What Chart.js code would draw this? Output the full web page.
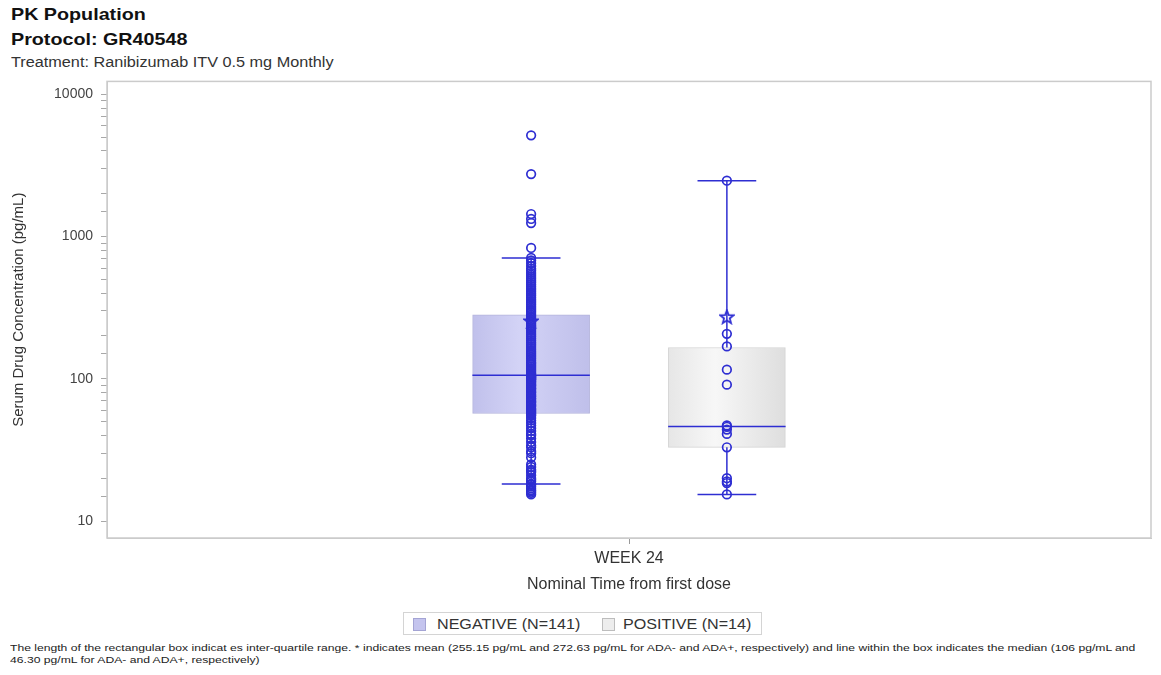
<!DOCTYPE html>
<html>
<head>
<meta charset="utf-8">
<script src="https://cdn.jsdelivr.net/npm/chart.js@4.4.1/dist/chart.umd.min.js"></script>
<style>
  body { margin:0; background:#fff; font-family: Arial, "Liberation Sans", sans-serif; }
  #page { position:relative; width:1161px; height:675px; overflow:hidden; }
  .t { position:absolute; white-space:nowrap; line-height:1; transform-origin:0 0; }
  .title { left:11px; font-size:17px; font-weight:bold; color:#111; transform:scaleX(1.16); }
  .sub { left:11px; top:55px; font-size:14px; color:#333; transform:scaleX(1.16); }
  #chartBox { position:absolute; left:0; top:65px; width:1161px; height:535px; }
  #legend { position:absolute; left:403px; top:612px; width:357px; height:21px; border:1px solid #d4d4d4; }
  .sw { position:absolute; top:5px; width:11px; height:11px; }
  .lt { font-size:14px; color:#333; top:4px; transform:scaleX(1.15); }
  .foot { left:10px; font-size:9px; color:#222; }
</style>
</head>
<body>
<div id="page">
  <div class="t title" style="top:6px">PK Population</div>
  <div class="t title" style="top:31px">Protocol: GR40548</div>
  <div class="t sub">Treatment: Ranibizumab ITV 0.5 mg Monthly</div>

  <div id="chartBox"><canvas id="boxChart" width="1161" height="535"></canvas></div>

  <div id="legend">
    <div class="sw" style="left:9px;background:#c4c4ee;border:1px solid #a4a4d4"></div>
    <div class="t lt" style="left:33px">NEGATIVE (N=141)</div>
    <div class="sw" style="left:198px;background:#ededed;border:1px solid #bdbdbd"></div>
    <div class="t lt" style="left:219px">POSITIVE (N=14)</div>
  </div>

  <div class="t foot" id="foot1" style="top:644px">The length of the rectangular box indicat es inter-quartile range. * indicates mean (255.15 pg/mL and 272.63 pg/mL for ADA- and ADA+, respectively) and line within the box indicates the median (106 pg/mL and</div>
  <div class="t foot" id="foot2" style="top:656px">46.30 pg/mL for ADA- and ADA+, respectively)</div>
</div>

<script>
// ── Data ──────────────────────────────────────────────────────────────────────

const categories  = ['WEEK 24'];
const groupLabels = ['NEGATIVE (N=141)', 'POSITIVE (N=14)'];

// individual concentrations (pg/mL)
const negValues = [
  5150, 2750, 1440, 1330, 1245, 832,
  708, 680, 650, 620, 595, 575, 555, 537, 520, 505, 490, 475, 461, 447, 434, 421, 409, 397, 385,
  374, 363, 353, 343, 333, 324, 315, 306, 298, 290,
  282, 275, 268, 260, 252, 245, 238, 231, 224, 217, 210, 204, 198, 192, 186, 180, 175, 170, 165,
  160, 155, 151, 147, 143, 139, 135, 131, 128, 125, 122, 119, 116, 113, 110, 108,
  106,
  105, 104, 103, 102, 101, 100, 99, 98, 96, 95, 93, 91, 90, 88, 86, 85, 83, 81, 80, 78, 76, 75,
  73, 72, 70, 69, 68, 66, 65, 64, 62, 61, 60, 59, 58,
  57, 56, 55, 53, 51, 49, 47, 45, 43, 41, 40, 38, 36, 34, 33, 31, 30, 28,
  25, 24, 23, 22.5, 22, 21, 20, 19.5, 19, 18.2, 18, 17.5, 17, 16.5, 16.2, 15.8, 15.4
];
const posValues = [2470, 207, 169, 116, 91, 47, 46, 44, 41, 33, 20, 19, 18.5, 15.4];

// box statistics per group [NEGATIVE, POSITIVE]
const q1          = [57, 33];
const medians     = [106, 46.3];
const q3          = [282, 166];
const whiskerLow  = [18.2, 15.4];
const whiskerHigh = [708, 2470];
const means       = [255.15, 272.63];

const yTickLabels = [10, 100, 1000, 10000];

// ── Layout helpers ────────────────────────────────────────────────────────────

const GROUP_GAP = 0.1875;                                 // spacing of the two groups on the 0..1 axis
const center  = i => 0.5 + (i - 0.5) * GROUP_GAP;
const halfBox = 0.05625;
const halfCap = halfBox * 0.5;
const BOX_PX  = 117;
const BLUE    = 'rgb(46,46,210)';

const gradStops = [
  ['#c0c0eb', '#d3d3f6', '#bfbfea'],
  ['#e6e6e6', '#f7f7f7', '#dedede']
];

function boxFill(c) {
  const chart = c.chart, xp = chart.scales.xp;
  const stops = gradStops[c.datasetIndex];
  if (!xp || !chart.chartArea) return stops[1];
  const l = xp.getPixelForValue(center(c.datasetIndex) - halfBox);
  const r = xp.getPixelForValue(center(c.datasetIndex) + halfBox);
  const g = chart.ctx.createLinearGradient(l, 0, r, 0);
  g.addColorStop(0, stops[0]); g.addColorStop(0.4, stops[1]); g.addColorStop(1, stops[2]);
  return g;
}

function whiskerData(i) {
  const c = center(i), gap = {x: c, y: null};
  return [
    {x: c - halfCap, y: whiskerLow[i]},  {x: c + halfCap, y: whiskerLow[i]},  gap,
    {x: c, y: whiskerLow[i]},            {x: c, y: q1[i]},                    gap,
    {x: c, y: q3[i]},                    {x: c, y: whiskerHigh[i]},           gap,
    {x: c - halfCap, y: whiskerHigh[i]}, {x: c + halfCap, y: whiskerHigh[i]}, gap,
    {x: c - halfBox, y: medians[i]},     {x: c + halfBox, y: medians[i]}
  ];
}

// outlined five-point star for the mean marker
function starMarker() {
  const cv = document.createElement('canvas');
  cv.width = cv.height = 16;
  const g = cv.getContext('2d');
  g.strokeStyle = BLUE; g.lineWidth = 1.8; g.lineJoin = 'miter';
  g.beginPath();
  for (let k = 0; k < 10; k++) {
    const r = k % 2 ? 3 : 7, a = -Math.PI / 2 + k * Math.PI / 5;
    const px = 8 + r * Math.cos(a), py = 8.5 + r * Math.sin(a);
    k ? g.lineTo(px, py) : g.moveTo(px, py);
  }
  g.closePath(); g.stroke();
  return cv;
}

const groupValues = [negValues, posValues];

const datasets = [];
groupLabels.forEach((lab, i) => {
  datasets.push({
    type: 'bar', label: lab, order: 4,
    data: categories.map(() => ({x: center(i), y: [q1[i], q3[i]]})),
    xAxisID: 'xp', yAxisID: 'y',
    backgroundColor: boxFill,
    borderColor: i === 0 ? '#b4b4dc' : '#d4d4d4', borderWidth: 1, borderSkipped: false,
    barThickness: BOX_PX, grouped: false
  });
});
groupLabels.forEach((lab, i) => {
  datasets.push({
    type: 'line', label: lab + ' whiskers', data: whiskerData(i), order: 3,
    xAxisID: 'xp', yAxisID: 'y', borderColor: BLUE, borderWidth: 1.5,
    pointRadius: 0, spanGaps: false, fill: false
  });
});
groupLabels.forEach((lab, i) => {
  datasets.push({
    type: 'scatter', label: lab + ' values', order: 2,
    data: groupValues[i].map(v => ({x: center(i), y: v})),
    xAxisID: 'xp', yAxisID: 'y',
    pointStyle: 'circle', pointRadius: 4.3, pointBorderWidth: 1.7,
    pointBackgroundColor: 'rgba(0,0,0,0)', pointBorderColor: BLUE
  });
});
datasets.push({
  type: 'scatter', label: 'mean', order: 1,
  data: means.map((m, i) => ({x: center(i), y: m})),
  xAxisID: 'xp', yAxisID: 'y',
  pointStyle: starMarker(), pointRadius: 7
});

const framePlugin = {
  id: 'frame',
  afterDraw(chart) {
    const {ctx, chartArea: a} = chart;
    ctx.save();
    ctx.strokeStyle = '#cbcbcb';
    ctx.lineWidth = 1.5;
    ctx.strokeRect(a.left, a.top, a.right - a.left, a.bottom - a.top);
    ctx.restore();
  }
};

const isLabelTick = v => yTickLabels.some(t => Math.abs(t - v) < 1e-6 * t);

new Chart(document.getElementById('boxChart'), {
  type: 'bar',
  data: { labels: categories, datasets },
  plugins: [framePlugin],
  options: {
    responsive: false,
    animation: false,
    layout: { padding: { top: 5, right: 10, left: 0, bottom: 0 } },
    plugins: { legend: { display: false }, tooltip: { enabled: false } },
    scales: {
      x: {
        type: 'category', offset: true,
        grid: { offset: false, drawOnChartArea: false, tickLength: 6, color: '#999' },
        border: { color: '#c8c8c8' },
        ticks: { font: { size: 16, family: 'Arial' }, color: '#333', padding: 5 },
        title: { display: true, text: 'Nominal Time from first dose', color: '#333',
                 font: { size: 16, family: 'Arial' }, padding: { top: 4, bottom: 6 } },
        afterFit(s) { s.height = 62; }
      },
      xp: { type: 'linear', min: 0, max: 1, display: false, offset: false, grid: { offset: false } },
      y: {
        type: 'logarithmic', min: 7.6, max: 12330,
        afterBuildTicks(s) { s.ticks = s.ticks.filter(t => t.value >= 10 && t.value <= 10000); },
        grid: { drawOnChartArea: false, tickLength: 6, color: '#a8a8a8' },
        border: { color: '#c8c8c8' },
        ticks: {
          autoSkip: false, padding: 8, color: '#444', font: { size: 14, family: 'Arial' },
          callback: v => isLabelTick(v) ? String(Math.round(v)) : ''
        },
        title: { display: true, text: 'Serum Drug Concentration (pg/mL)', color: '#333',
                 font: { size: 15, family: 'Arial' }, padding: { top: 10, bottom: 0 } },
        afterFit(s) { s.width = 107; }
      }
    }
  }
});

// footnote is stretched to the reference line length
const f1 = document.getElementById('foot1'), f2 = document.getElementById('foot2');
const k = 1125 / f1.offsetWidth;
f1.style.transform = f2.style.transform = 'scaleX(' + k + ')';
</script>
</body>
</html>
